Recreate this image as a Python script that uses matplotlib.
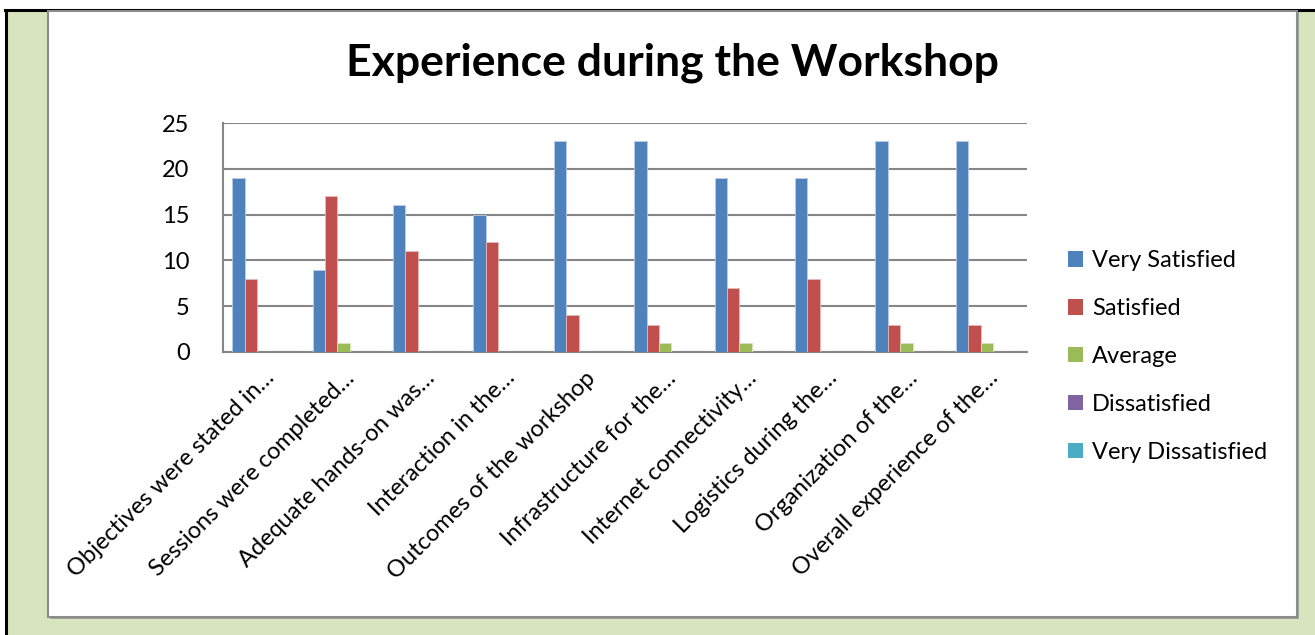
import matplotlib
matplotlib.use("Agg")
import matplotlib.pyplot as plt
from matplotlib.patches import Rectangle
from matplotlib.lines import Line2D
import numpy as np

plt.rcParams['font.family'] = ['Lato', 'DejaVu Sans']

categories = ["Objectives were stated in\u2026", "Sessions were completed\u2026",
              "Adequate hands-on was\u2026", "Interaction in the\u2026",
              "Outcomes of the workshop", "Infrastructure for the\u2026",
              "Internet connectivity\u2026", "Logistics during the\u2026",
              "Organization of the\u2026", "Overall experience of the\u2026"]
very_satisfied = [19, 9, 16, 15, 23, 23, 19, 19, 23, 23]
satisfied = [8, 17, 11, 12, 4, 3, 7, 8, 3, 3]
average = [0, 1, 0, 0, 0, 1, 1, 0, 1, 1]
dissatisfied = [0, 0, 0, 0, 0, 0, 0, 0, 0, 0]
very_dissatisfied = [0, 0, 0, 0, 0, 0, 0, 0, 0, 0]
series_names = ["Very Satisfied", "Satisfied", "Average", "Dissatisfied", "Very Dissatisfied"]
colors = ["#4F81BD", "#C0504D", "#9BBB59", "#8064A2", "#4BACC6"]
edges = ["#B9CDE5", "#E6B9B8", "#D7E4BD", "#CCC1DA", "#B7DEE8"]
yticks = [0, 5, 10, 15, 20, 25]

W, H = 1315, 635
fig = plt.figure(figsize=(W / 100, H / 100), dpi=100)
fig.patch.set_facecolor("white")

def fx(x): return x / W
def fy(y): return 1 - y / H

# green background
fig.patches.append(Rectangle((fx(6), 0), fx(W - 6), fy(10), transform=fig.transFigure,
                             facecolor="#D7E4BD", edgecolor="none", zorder=0))
# black border top & left
fig.add_artist(Line2D([fx(5), 1], [fy(9.5), fy(9.5)], transform=fig.transFigure, color="black", lw=2.2))
fig.add_artist(Line2D([fx(5.5), fx(5.5)], [0, fy(9.5)], transform=fig.transFigure, color="black", lw=2.2))
# shadow + inner white box
fig.patches.append(Rectangle((fx(50), fy(619)), fx(1249), fy(12) - fy(619), transform=fig.transFigure,
                             facecolor="#A0A0A0", edgecolor="none", zorder=1))
fig.patches.append(Rectangle((fx(48), fy(617)), fx(1249), fy(10.5) - fy(617), transform=fig.transFigure,
                             facecolor="white", edgecolor="#8C8C8C", lw=1.5, zorder=2))

ax = fig.add_axes([fx(223), fy(352), fx(1027 - 223), fy(123) - fy(352)])
ax.set_zorder(5)
ax.patch.set_alpha(0)

n = len(categories)
x = np.arange(n)
bw = 1 / 6.5
data = [very_satisfied, satisfied, average, dissatisfied, very_dissatisfied]
handles = []
for i, (vals, c, e, name) in enumerate(zip(data, colors, edges, series_names)):
    ax.bar(x + (i - 2) * bw, vals, width=bw, color=c, edgecolor=e, linewidth=0.6,
           label=name, zorder=3)
    handles.append(Rectangle((0, 0), 1, 1, facecolor=c, edgecolor="none"))

ax.set_xlim(-0.5, n - 0.5)
ax.set_ylim(0, 25)
ax.set_yticks(yticks)
ax.set_yticklabels([str(v) for v in yticks], fontsize=17)
ax.yaxis.grid(True, color="#868686", lw=1.5, zorder=0)
ax.set_axisbelow(True)
for s in ["top", "right"]:
    ax.spines[s].set_visible(False)
ax.spines["left"].set_color("#868686")
ax.spines["left"].set_linewidth(1.5)
ax.spines["bottom"].set_color("#868686")
ax.spines["bottom"].set_linewidth(1.5)
ax.tick_params(axis="y", length=0, pad=24)
ax.tick_params(axis="x", length=0, pad=11)
ax.set_xticks(x)
ax.set_xticklabels(categories, rotation=45, ha="right", rotation_mode="anchor", fontsize=17)

fig.text(fx(672), fy(63), "Experience during the Workshop", ha="center", va="center",
         fontsize=32, fontweight="bold", zorder=6)

fig.legend(handles, series_names, loc="upper left", bbox_to_anchor=(fx(1047), fy(229)),
           frameon=False, fontsize=17, handlelength=0.62, handleheight=0.62,
           handletextpad=0.4, labelspacing=1.14)

fig.savefig("out.png", dpi=100, facecolor=fig.get_facecolor())
